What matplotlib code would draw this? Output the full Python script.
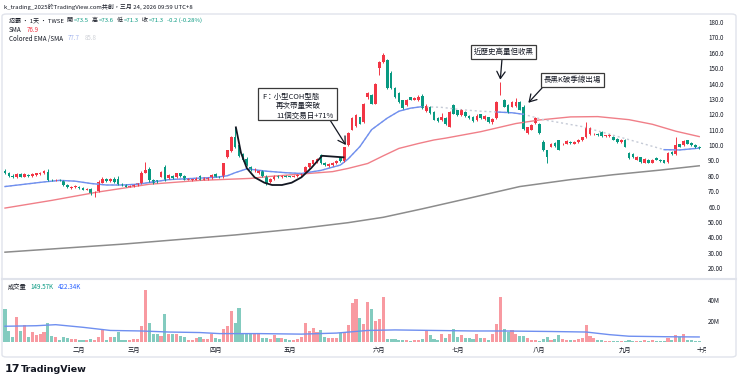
import numpy as np
import matplotlib
matplotlib.use('Agg')
import matplotlib.pyplot as plt
from matplotlib.patches import FancyBboxPatch, Rectangle
from matplotlib.lines import Line2D
from matplotlib.transforms import Bbox, TransformedBbox

plt.rcParams['font.family'] = ['Noto Sans CJK TC', 'DejaVu Sans']

# ---- daily candles ----
opens = [83, 81.5, 80, 79, 81, 79.5, 80.5, 80, 80.5, 81, 81.5, 82.5, 77.5, 77, 77.5, 76.5, 74, 72, 72.5, 73,
         72, 71, 71.5, 68.5, 70, 75.5, 78, 76.5, 78, 78, 74.5, 74, 73, 73.5, 74, 75, 82, 84.5, 77.5, 77,
         79.5, 86, 78.5, 80, 79, 81.5, 80, 77.5, 77, 77.5, 80, 77.5, 78, 78.5, 81, 79.5, 79, 92, 96, 105,
         100, 94, 91, 86, 83.5, 82, 83, 80, 76, 78, 80, 79, 80, 79.5, 79.5, 80, 80.5, 82, 85.5, 87.5,
         89.5, 93.5, 88.5, 86.5, 87, 88, 92, 89.5, 100, 110, 112.5, 118, 115, 131, 132.5, 127, 150, 154, 155, 147,
         137, 134, 129, 126, 131, 129.5, 129, 132, 122, 125, 121.5, 117.5, 116, 117.5, 112, 126, 122.5, 119.5, 121.5, 119,
         118.5, 116, 120, 117, 118, 115, 117.5, 133, 129, 126, 125, 125.5, 128, 125, 108, 110, 114.5, 114, 102, 96.5,
         99, 101.5, 103, 100.5, 101, 102, 101, 102, 103, 105, 107, 107, 107.5, 108.5, 106, 106, 105.5, 104, 102, 103.5,
         95, 94, 90.5, 92, 88.5, 90.5, 88.5, 91.5, 90.5, 90, 89, 95.5, 94, 100.5, 100, 103, 101.5, 100, 99]
highs = [84.5, 82.5, 81, 82, 81.5, 81.5, 81, 81.5, 82, 82.5, 83.5, 84.5, 78, 78, 78, 77, 74.5, 73.5, 74, 73.5,
         72.5, 72, 72, 70, 77, 79, 78.5, 78.5, 79, 80, 75.5, 74.5, 74, 74.5, 75.5, 83, 89, 86, 78, 77.5,
         83, 87, 81, 80.5, 82, 82, 80.5, 78.5, 78, 79, 80.5, 79.5, 79, 81, 81.5, 80, 88.5, 97, 106, 112,
         101, 95, 92, 86.5, 85, 84, 83.5, 80.5, 78.5, 80.5, 80.5, 80.5, 80.5, 80, 80.5, 81, 82, 86.5, 88.5, 90.5,
         91.5, 94, 89, 88, 89, 90, 92.5, 99, 108.5, 118, 120, 118.5, 127.5, 134.5, 133, 140.5, 154.5, 160, 156, 148,
         137.5, 134.5, 129.5, 130, 131.5, 131, 132.5, 133, 126.5, 125.5, 122, 118, 121, 118, 122, 126.5, 123, 123.5, 122, 119.5,
         119, 120, 120.5, 119.5, 118.5, 117.5, 128.5, 141, 130, 126.5, 128.5, 130.5, 128.5, 126, 112, 114, 118, 114.5, 103, 97,
         101.5, 102, 103.5, 101.5, 103, 102.5, 102.5, 104, 105.5, 115, 111.5, 108, 108, 109, 106.5, 107, 106, 104.5, 104, 104,
         95.5, 94.5, 93, 92.5, 91.5, 91, 91, 92, 91, 90.5, 95.5, 96, 105, 101, 103, 103.5, 102, 100.5, 99.5]
lows = [81, 79.5, 78.5, 78.5, 79, 79, 79.5, 79.5, 80, 80.5, 81, 76.5, 76.5, 76.5, 76.5, 73.5, 72, 71.5, 72, 71.5,
        70.5, 70.5, 67.5, 66.5, 69.5, 75, 76, 76, 75.5, 74, 73.5, 72.5, 72.5, 73, 73.5, 74.5, 81.5, 76, 74.5, 75.5,
        79, 76.5, 78, 78, 78.5, 79.5, 77, 77, 76.5, 77, 77, 77, 77.5, 78, 79, 78.5, 78.5, 91.5, 95.5, 98,
        92.5, 89.5, 86.5, 83, 82.5, 81, 79.5, 74, 75.5, 77.5, 78.5, 78.5, 79, 79, 79, 79.5, 79.5, 81.5, 85, 87,
        88.5, 87.5, 86.5, 86, 86.5, 87.5, 89, 89, 99.5, 109.5, 112, 113.5, 114.5, 130, 126.5, 126.5, 145.5, 153.5, 136.5, 136.5,
        130.5, 127.5, 123.5, 125.5, 129, 129, 128.5, 123.5, 121.5, 120.5, 116, 115, 115.5, 113, 111.5, 120, 119, 119, 118.5, 117,
        115, 115.5, 117, 116.5, 114.5, 114, 117, 132.5, 124.5, 121, 124.5, 125, 122.5, 110, 107.5, 109.5, 114, 107.5, 96, 88,
        98.5, 99, 96.5, 100, 100.5, 101, 100.5, 101.5, 102.5, 104.5, 106.5, 106.5, 106, 105.5, 105.5, 105.5, 103, 101.5, 101.5, 98.5,
        91, 91.5, 90, 88.5, 88, 88, 88, 90, 89, 88, 88.5, 93.5, 93.5, 98.5, 99.5, 100.5, 99.5, 98, 97.5]
closes = [82, 80, 79, 81, 79.5, 81, 80, 81, 81.5, 82, 83, 77, 77, 77.5, 77, 74, 72.5, 73, 73.5, 72,
          71, 71.5, 68, 69.5, 76, 78, 76.5, 78, 76, 74.5, 74, 73, 73.5, 74, 75, 82, 84, 77, 75, 76,
          82.5, 77, 80.5, 78.5, 81.5, 80, 77.5, 78, 77.8, 78.5, 77.5, 79, 78.5, 80.5, 79.5, 79, 88, 96.5, 105, 99,
          93, 90, 87, 84, 84.5, 83.5, 80, 75, 78, 80, 79, 80, 79.5, 79.3, 80, 80.5, 81.5, 86, 88, 90,
          91, 88, 87, 87.5, 88.5, 89.5, 89.5, 98.5, 108, 117.5, 119.5, 114, 127, 134, 127, 140, 154, 158.5, 137, 137,
          131, 128, 124, 129.5, 129.5, 130.5, 131, 124, 125.5, 121, 116.5, 115.5, 118, 113.5, 121.5, 120.5, 119.5, 123, 119, 117.5,
          115.5, 119, 117.5, 119, 115, 117, 128, 133.5, 125, 121.5, 128, 128, 123, 110.5, 111.5, 113, 117.5, 108, 96.5, 92,
          101, 99.5, 97, 101, 102.5, 101.5, 102, 103.5, 105, 111, 111, 107.5, 106.5, 106, 106.3, 106.5, 103.5, 102, 103.5, 99,
          91.5, 92, 92.5, 89, 91, 88.5, 90.5, 90.5, 89.5, 88.5, 95, 94, 100, 99, 102.5, 101, 100, 98.5, 98]
volumes = [31, 10.5, 4.8, 23.8, 10.5, 16.2, 4.8, 9.8, 6.7, 8, 9.8, 18, 5.7, 4.8, 1.6, 4.8, 3.5, 2.9, 2.5, 1.6,
           1.6, 1.6, 2.5, 1.6, 4.8, 11.7, 2.2, 4.8, 4.8, 9.8, 1.6, 1.6, 1.6, 2.5, 2.5, 15.2, 49.2, 18.4, 7.9, 7.3,
           5.7, 26.3, 7.9, 7.9, 7.3, 5.7, 4.8, 1.6, 1.6, 4.1, 4.8, 2.5, 2.5, 7.3, 4.1, 2.5, 12, 15.2, 29.5, 18.4,
           32.7, 7.3, 7.3, 7.9, 7.9, 7.3, 4.1, 3.5, 2.5, 6.7, 3.5, 3.5, 2.5, 1.6, 1.6, 2.5, 4.8, 18.4, 10.5, 13.7,
           9.8, 11.1, 4.8, 4.1, 4.1, 4.1, 8.9, 8.9, 16.2, 36.8, 40.6, 22.5, 17, 38.4, 31, 20, 21.6, 42.9, 2.5, 2.5,
           2.5, 1.9, 1.6, 1.6, 1, 1.9, 1.9, 2.5, 10.5, 6.7, 2.5, 2.2, 7.3, 3.5, 7.9, 12, 4.8, 6.7, 3.5, 3.5,
           2.5, 7.9, 4.1, 4.1, 1.6, 7.3, 16.8, 42.9, 12, 9.8, 11, 7.9, 5.7, 5.7, 3.5, 1.6, 1.6, 1, 2.5, 4.8,
           1.6, 2.5, 6.7, 2.5, 1.6, 1.9, 1.6, 2.5, 4.1, 16.2, 5.7, 3.5, 1.9, 1.9, 1, 1, 1, 1, 0.6, 0.6,
           1.6, 1, 0.6, 0.6, 1.6, 1, 1.6, 0.6, 0.6, 1, 3.5, 1.6, 6.7, 4.8, 7.3, 1.6, 1.6, 1, 1]

# ---- moving averages, read at sample bars ----
sma_idx = [0, 5, 10, 14, 18, 22, 26, 30, 34, 38, 42, 46, 50, 54, 57, 59, 62, 67, 72, 76, 81, 86, 88, 91, 94, 98,
           101, 104, 107, 112, 117, 122, 126, 130, 133, 138, 148, 160, 169, 173, 178]
sma_val = [73, 74.5, 76, 77, 76.5, 75, 74, 74, 74.5, 76, 77.5, 78, 78.5, 79, 80, 82, 84.5, 83, 82, 81.5, 83.5, 87,
           91, 99, 110, 117.5, 122, 124, 125, 124.5, 123, 122, 121.5, 121, 120, 116.5, 112, 103.5, 97, 96.8, 98]
sma_blue = [(0, 107), (126, 133), (169, 178)]      # bar ranges where the colored SMA is blue
ema_idx = [0, 12, 24, 37, 50, 63, 67, 84, 88, 93, 97, 101, 106, 110, 113, 122, 131, 137, 145, 152, 160, 166, 172, 178]
ema_val = [59, 64, 69.5, 74.5, 77, 78.3, 79.4, 82.7, 84.8, 88, 93, 97.8, 101, 103.3, 104.5, 108.7, 114, 116.3,
           118.3, 118.5, 116.5, 113.5, 109, 105.5]
long_idx = [0, 30, 59, 75, 88, 97, 107, 120, 132, 145, 156, 168, 178]
long_val = [30.3, 35.5, 41.5, 45.5, 49.5, 53, 58.5, 66, 73, 77.5, 80.7, 83.7, 86.5]
vma_idx = [0, 8, 13, 20, 27, 35, 42, 50, 55, 65, 76, 85, 93, 100, 110, 120, 128, 140, 149, 155, 160, 170, 178]
vma_val = [15, 15.5, 16.5, 14, 11, 10.5, 9.5, 9, 8, 8, 7.5, 8.5, 11, 11.5, 11, 10.5, 10.5, 10, 9.5, 7, 5.5, 5, 4.8]

# cup-with-handle sketch (bar, price)
cup_x = [59.2, 60.5, 62, 64, 66.5, 68.5, 71, 73.5, 76, 78.5, 81.3, 86.8]
cup_y = [111.5, 95, 85, 79, 75.5, 74, 74, 75.5, 79, 85, 93, 92]

month_pos = [19, 33, 54, 73, 96, 116, 137, 159, 179]
month_lab = ['二月', '三月', '四月', '五月', '六月', '七月', '八月', '九月', '十月']
price_ticks = [20, 30, 40, 50, 60, 70, 80, 90, 100, 110, 120, 130, 140, 150, 160, 170, 180]
price_labs = ['20.00', '30.00', '40.00', '50.00', '60.0', '70.0', '80.0', '90.0', '100.0', '110.0', '120.0',
              '130.0', '140.0', '150.0', '160.0', '170.0', '180.0']

RED = '#F23645'
GREEN = '#089981'
TXT = '#131722'
W, H = 740, 385
SMALL = 4.5


def fx(x):
    return x / W


def fy(y):
    return 1 - y / H


fig = plt.figure(figsize=(7.4, 3.85), dpi=100)
fig.patch.set_facecolor('white')

# frame + pane separator
fig.patches.append(FancyBboxPatch((fx(2), fy(357)), fx(734), (357 - 14) / H, boxstyle='round,pad=0,rounding_size=0.006',
                                  transform=fig.transFigure, fc='none', ec='#e0e3eb', lw=1))
fig.lines.append(Line2D([fx(2), fx(736)], [fy(278.5), fy(278.5)], transform=fig.transFigure, color='#e0e3eb', lw=1.5))

ax = fig.add_axes([fx(3), fy(278), (704 - 3) / W, (278 - 15) / H])
axv = fig.add_axes([fx(3), fy(342), (704 - 3) / W, (342 - 281) / H])

o = np.array(opens)
h = np.array(highs)
l = np.array(lows)
c = np.array(closes)
v = np.array(volumes)
idx = np.arange(len(c))
cols = np.where(c >= o, RED, GREEN)

x0 = (3 - 5) / 3.9
x1 = x0 + 701 / 3.9

# price pane
ax.plot(long_idx, long_val, color='#8c8c8c', lw=1.1)
ax.plot(ema_idx, ema_val, color='#f07f88', lw=1)
si = np.array(sma_idx)
sv = np.array(sma_val)
ax.plot(si, sv, color='#c5cad6', lw=1, ls=(0, (1.5, 2)))
for a, b in sma_blue:
    m = (si >= a) & (si <= b)
    ax.plot(si[m], sv[m], color='#6f8ff0', lw=1)
ax.vlines(idx, l, h, colors=cols, lw=0.7)
ax.bar(idx, np.maximum(np.abs(c - o), 0.4), bottom=np.minimum(o, c), width=0.7, color=cols, lw=0)
ax.plot(cup_x, cup_y, color='#131722', lw=1.3)

ax.set_xlim(x0, x1)
ax.set_ylim(13.5, 184.6)
ax.set_xticks([])
ax.yaxis.tick_right()
ax.set_yticks(price_ticks)
ax.set_yticklabels(price_labs)
ax.tick_params(axis='y', length=0, pad=3, labelsize=SMALL, labelcolor=TXT)
for s in ax.spines.values():
    s.set_visible(False)

# volume pane
axv.bar(idx, v, width=0.8, color=cols, alpha=0.5, lw=0)
axv.plot(vma_idx, vma_val, color='#6f8ff0', lw=1)
axv.set_xlim(x0, x1)
axv.set_ylim(0, 58.1)
axv.yaxis.tick_right()
axv.set_yticks([20, 40])
axv.set_yticklabels(['20M', '40M'])
axv.set_xticks(month_pos)
axv.set_xticklabels(month_lab)
axv.tick_params(axis='both', length=0, labelsize=SMALL, labelcolor=TXT)
axv.tick_params(axis='y', pad=3)
axv.tick_params(axis='x', pad=3)
for s in axv.spines.values():
    s.set_visible(False)
clip = TransformedBbox(Bbox([[0, 0], [fx(706), 1]]), fig.transFigure)
for t in axv.get_xticklabels():
    t.set_clip_on(True)
    t.set_clip_box(clip)

# annotations
ANN = 5.4
box = dict(boxstyle='square,pad=0.35', fc='white', ec='#3a3a3a', lw=0.9)
fig.patches.append(Rectangle((fx(258), fy(120)), (337 - 258) / W, (120 - 88) / H, transform=fig.transFigure,
                             fc='white', ec='#3a3a3a', lw=0.9, zorder=5))
fig.text(fx(262), fy(98.5), 'F：小型COH型態', fontsize=ANN, color=TXT, va='baseline', zorder=6)
fig.text(fx(276), fy(108), '再次帶量突破', fontsize=ANN, color=TXT, va='baseline', zorder=6)
fig.text(fx(276), fy(117.5), '11個交易日+71%', fontsize=ANN, color=TXT, va='baseline', zorder=6)
fig.text(fx(503.5), fy(52), '近歷史高量但收黑', fontsize=ANN, color=TXT, va='center', ha='center', bbox=box, zorder=6)
fig.text(fx(572.5), fy(80), '長黑K破季線出場', fontsize=ANN, color=TXT, va='center', ha='center', bbox=box, zorder=6)
arrow = dict(arrowstyle='->,head_length=0.5,head_width=0.3', color=TXT, lw=0.9, shrinkA=0, shrinkB=0)
ax.annotate('', xy=(87.4, 100), xytext=(330, H - 120), textcoords='figure pixels', arrowprops=arrow)
ax.annotate('', xy=(127, 142.5), xytext=(502, H - 59), textcoords='figure pixels', arrowprops=arrow)
ax.annotate('', xy=(134.2, 127.5), xytext=(542, H - 88), textcoords='figure pixels', arrowprops=arrow)

# header text
renderer = fig.canvas.get_renderer()


def seq(x, y, parts, size=SMALL):
    for s, col, gap in parts:
        t = fig.text(fx(x), fy(y), s, color=col, fontsize=size, va='center', ha='left')
        x += t.get_window_extent(renderer).width + gap


seq(4, 7, [('k_trading_2025於TradingView.com共創，三月 24, 2026 09:59 UTC+8', TXT, 0)], size=4.3)
seq(9, 20.5, [('招霸 · 1天 · TWSE', TXT, 3), ('開', TXT, 1), ('=73.5', GREEN, 3), ('高', TXT, 1), ('=73.6', GREEN, 3),
              ('低', TXT, 1), ('=71.3', GREEN, 3), ('收', TXT, 1), ('=71.3', GREEN, 3), ('-0.2 (-0.28%)', GREEN, 0)],
    size=4.3)
seq(9, 29.5, [('SMA', TXT, 5), ('76.9', RED, 0)])
seq(9, 38.5, [('Colored EMA /SMA', TXT, 5), ('77.7', '#a9b9ee', 5), ('85.8', '#cfd2d8', 0)])
seq(8, 287, [('成交量', TXT, 4), ('149.57K', GREEN, 4), ('422.34K', '#2962FF', 0)])

# logo
fig.text(fx(5), fy(369), '17', fontsize=8, fontweight='heavy', color=TXT, va='center', family='DejaVu Sans')
fig.text(fx(21), fy(369), 'TradingView', fontsize=6.8, fontweight='bold', color=TXT, va='center', family='DejaVu Sans')

fig.savefig('out.png', dpi=100, facecolor='white')
